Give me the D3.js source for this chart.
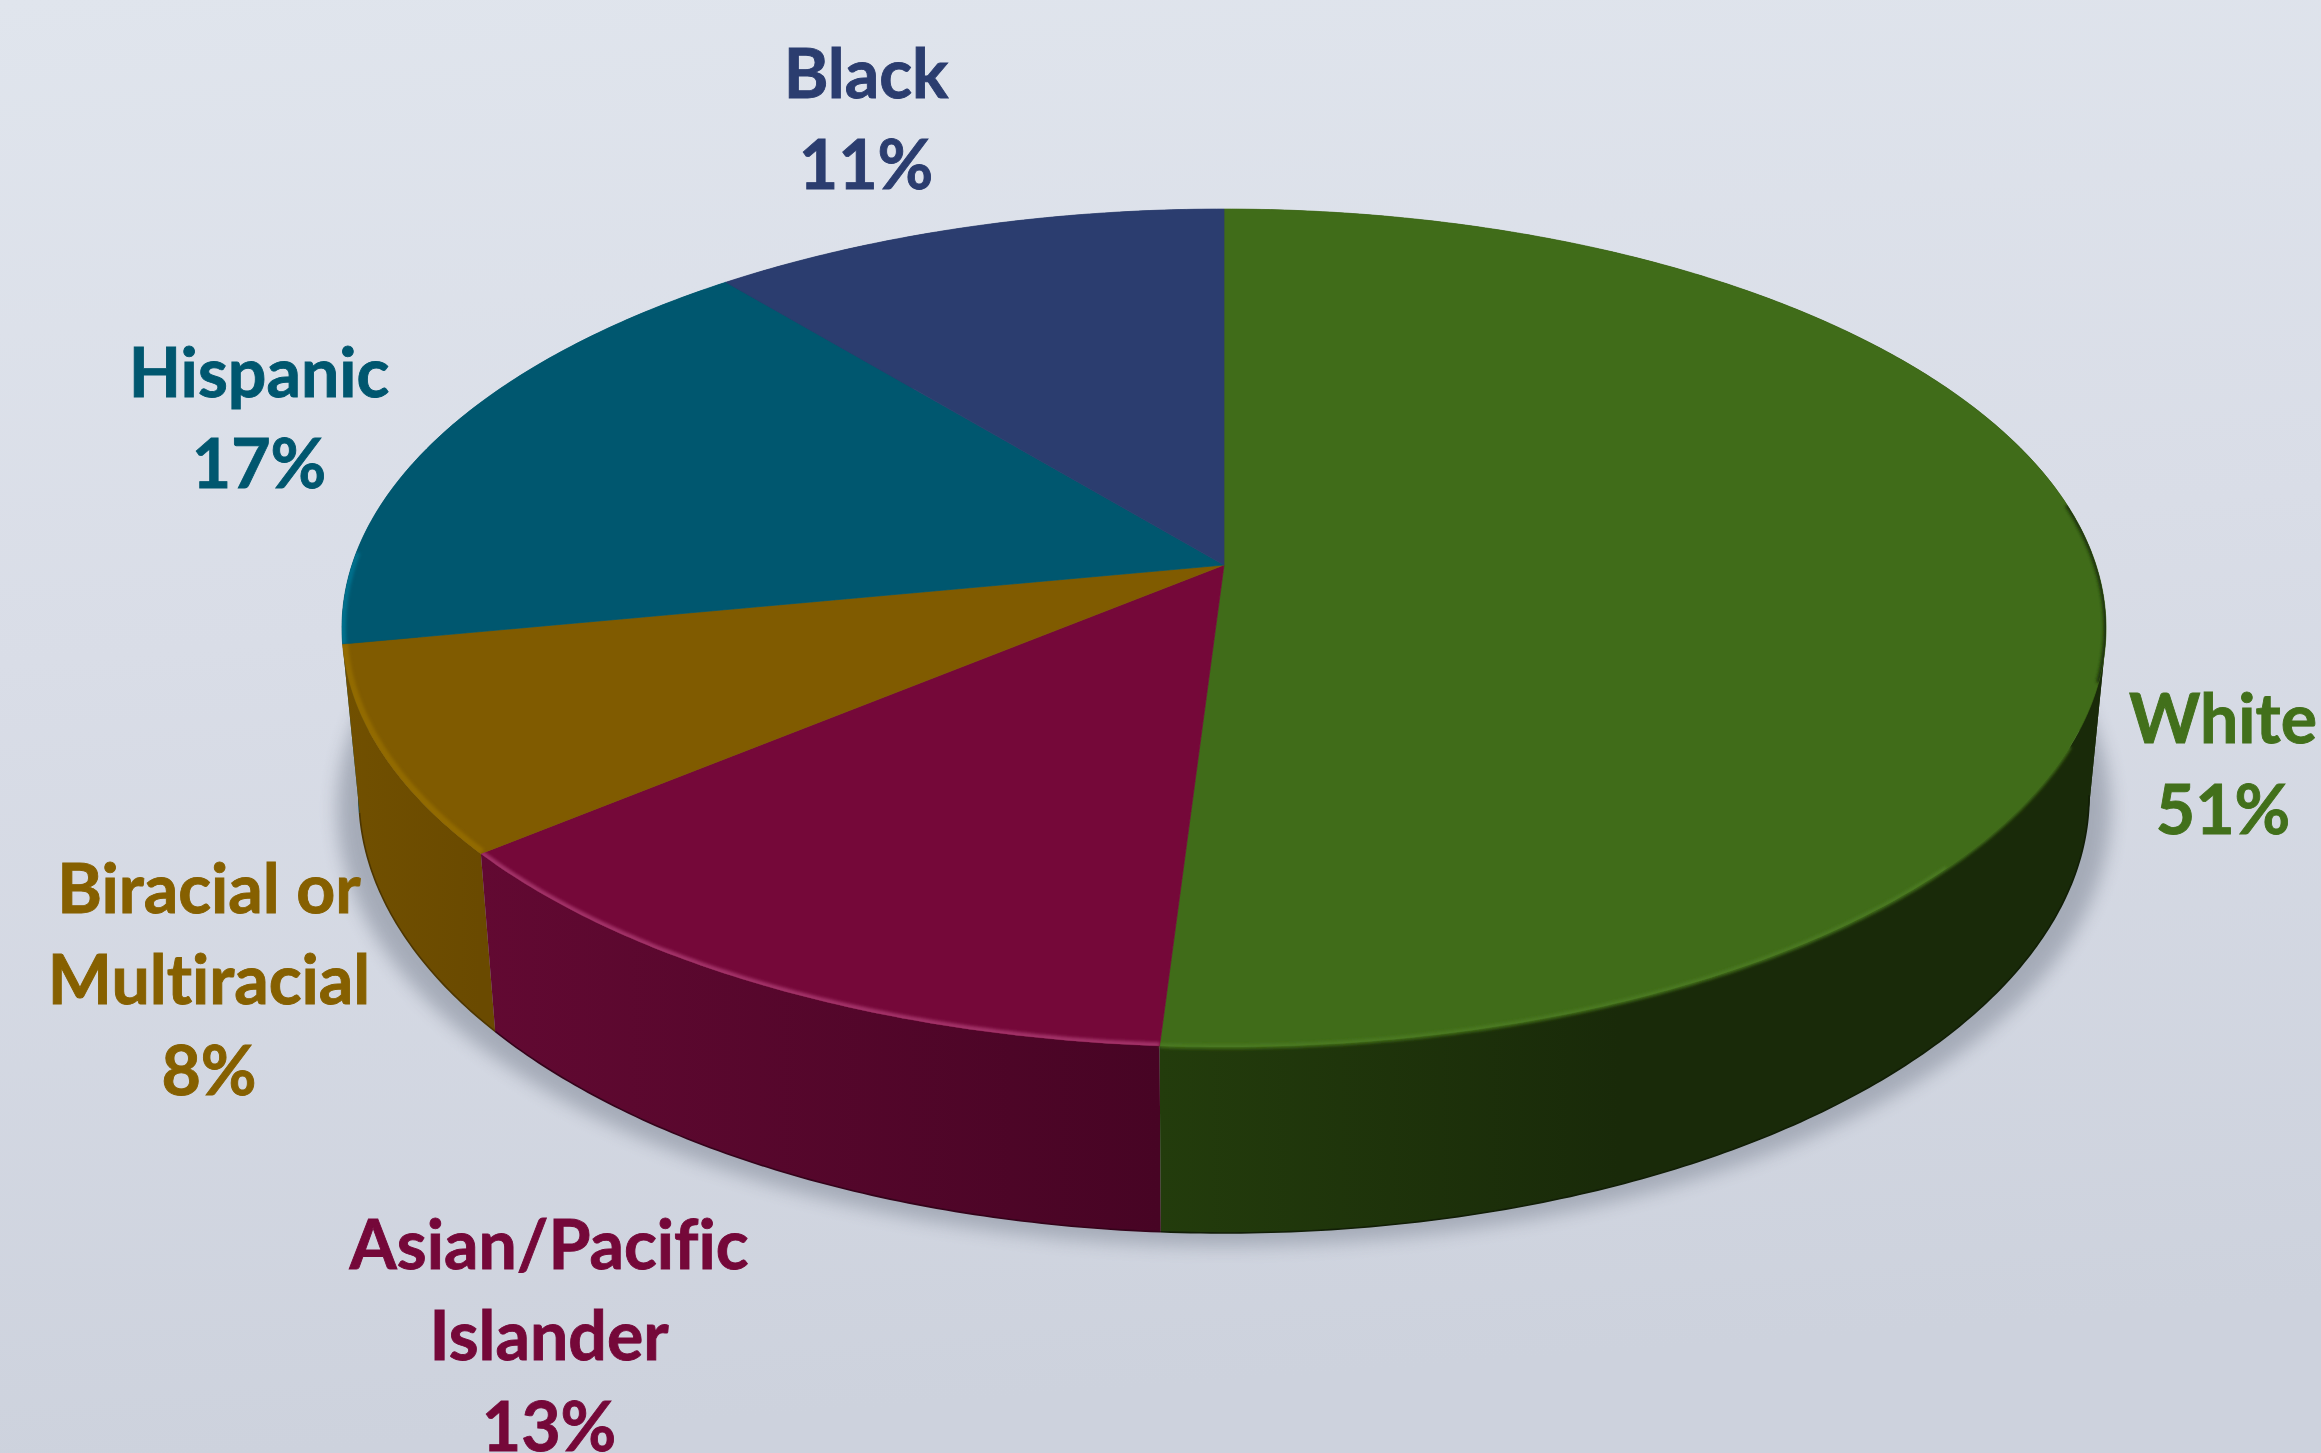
<!DOCTYPE html>
<html>
<head>
<meta charset="utf-8">
<script src="https://cdn.jsdelivr.net/npm/d3@7"></script>
<style>
  html, body { margin: 0; padding: 0; background: #d8dce6; overflow: hidden; }
  text { font-family: Lato, "Open Sans", sans-serif; font-weight: 700; font-variant-ligatures: none; }
</style>
</head>
<body>
<div id="chart"></div>
<script>
// values, clockwise from 12 o'clock
var categories = ["White", "Asian/Pacific Islander", "Biracial or Multiracial", "Hispanic", "Black"];
var values = [51, 13, 8, 17, 11];
var labelLines = [["White"], ["Asian/Pacific", "Islander"], ["Biracial or", "Multiracial"], ["Hispanic"], ["Black"]];

// colours per slice
var faceColors = ["#406c19", "#750839", "#805b00", "#00576f", "#2b3d6f"];
var textColors = ["#42701b", "#750839", "#866000", "#00576f", "#2b3d6f"];
var wallLeft = ["#233c0c", "#620932", "#715000", "#005068", "#22305a"];
var wallRight = ["#192a09", "#470424", "#6a4a00", "#005068", "#22305a"];
var rimColors = ["#4b7a20", "#a23068", "#926a00", "#006f8c", "#2b3d6f"];

var width = 2321;
var height = 1453;

// the pie is a flat disc seen in perspective
var cx = 1224;
var apexY = 565;
var persp = -0.1504;
var radiusX = 872;
var radiusY = 409.5;

// where the lower rim of the wall sits relative to the upper rim
var rimX = d3.scaleLinear().domain([342, 2106]).range([359, 2089]);
var rimY = d3.scaleLinear().domain([860, 1048]).range([1038, 1234]);

// the lower rim can only be seen between these two angles
var lowVisibleFrom = 1.72;
var lowVisibleTo = 2 * Math.PI - 1.72;

function project(a) {
  var u = Math.sin(a), v = -Math.cos(a);
  var w = 1 + persp * v;
  return [cx + radiusX * u / w, apexY + radiusY * v / w];
}
function projectLow(a) {
  var p = project(a);
  return [rimX(p[0]), rimY(p[1])];
}
function samples(a0, a1) {
  var n = Math.max(2, Math.ceil((a1 - a0) / 0.01));
  return d3.range(n + 1).map(function(i) { return a0 + (a1 - a0) * i / n; });
}

var line = d3.line();
var pie = d3.pie().sort(null).startAngle(0).endAngle(2 * Math.PI);
var slices = pie(values);

var svg = d3.select("#chart").append("svg")
  .attr("width", width)
  .attr("height", height)
  .style("display", "block");

var defs = svg.append("defs");

var bg = defs.append("linearGradient").attr("id", "bg")
  .attr("x1", 0).attr("y1", 0).attr("x2", 0.12).attr("y2", 1);
bg.append("stop").attr("offset", 0).attr("stop-color", "#e0e5ed");
bg.append("stop").attr("offset", 0.45).attr("stop-color", "#d9dde7");
bg.append("stop").attr("offset", 1).attr("stop-color", "#cdd2dd");

defs.append("filter").attr("id", "shadowBlur")
  .attr("x", -0.1).attr("y", -0.1).attr("width", 1.2).attr("height", 1.2)
  .append("feGaussianBlur").attr("stdDeviation", 9);
defs.append("filter").attr("id", "rimBlur")
  .attr("filterUnits", "userSpaceOnUse")
  .attr("x", 0).attr("y", 0).attr("width", width).attr("height", height)
  .append("feGaussianBlur").attr("stdDeviation", 1.6);

svg.append("rect").attr("width", width).attr("height", height).attr("fill", "url(#bg)");

// soft shadow under the disc
var shadowPts = samples(0, 2 * Math.PI).map(function(a) {
  var p = projectLow(a);
  return [cx + (p[0] - cx) * 1.025, p[1] + 13];
});
svg.append("path")
  .attr("d", line(shadowPts) + "Z")
  .attr("fill", "#a3a9b6")
  .attr("opacity", 0.95)
  .attr("filter", "url(#shadowBlur)");

// walls, back slices first
var drawOrder = [4, 3, 2, 1, 0];
drawOrder.forEach(function(i) {
  var s = slices[i];
  var angles = samples(s.startAngle, s.endAngle);
  var xs = angles.map(function(a) { return project(a)[0]; });

  var grad = defs.append("linearGradient").attr("id", "wall" + i)
    .attr("gradientUnits", "userSpaceOnUse")
    .attr("x1", i === 0 ? 1160 : d3.min(xs)).attr("y1", 0)
    .attr("x2", i === 0 ? 1620 : d3.max(xs)).attr("y2", 0);
  grad.append("stop").attr("offset", 0).attr("stop-color", wallLeft[i]);
  grad.append("stop").attr("offset", 1).attr("stop-color", wallRight[i]);

  // one quad per step so the side of the disc keeps its straight silhouette.
  // quads that wind opposite ways cancel out in one path, so split them in two
  var quads = d3.pairs(angles).map(function(p) {
    return [project(p[0]), project(p[1]), projectLow(p[1]), projectLow(p[0])];
  });
  var groups = d3.groups(quads, function(q) { return d3.polygonArea(q) > 0; });
  groups.forEach(function(g) {
    svg.append("path")
      .attr("d", g[1].map(function(q) { return line(q) + "Z"; }).join(""))
      .attr("fill", "url(#wall" + i + ")")
      .attr("stroke", "none");
  });

  // thin darker line along the visible part of the bottom edge
  var from = Math.max(s.startAngle, lowVisibleFrom);
  var to = Math.min(s.endAngle, lowVisibleTo);
  if (to > from) {
    svg.append("path")
      .attr("d", line(samples(from, to).map(projectLow)))
      .attr("fill", "none")
      .attr("stroke", d3.color(wallRight[i]).darker(0.9))
      .attr("stroke-width", 1.6);
  }
});

// soft edge where the white slice meets its wall
svg.append("path")
  .attr("d", line(samples(2.0, slices[0].endAngle).map(project)))
  .attr("fill", "none")
  .attr("stroke", faceColors[0])
  .attr("stroke-width", 4)
  .attr("filter", "url(#rimBlur)");

// top faces
slices.forEach(function(s, i) {
  var angles = samples(s.startAngle, s.endAngle);
  var pts = [[cx, apexY]].concat(angles.map(project));
  var d = line(pts) + "Z";

  defs.append("clipPath").attr("id", "face" + i).append("path").attr("d", d);

  svg.append("path")
    .attr("d", d)
    .attr("fill", faceColors[i])
    .attr("stroke", faceColors[i])
    .attr("stroke-width", 0.7);
});

// lighter bevel on the front of the rim only
var rimSpans = [[2.3, slices[0].endAngle], [slices[1].startAngle, slices[1].endAngle],
  [slices[2].startAngle, slices[2].endAngle], [slices[3].startAngle, slices[3].startAngle + 0.22]];
var rimWidths = [5, 7, 11, 8];
rimSpans.forEach(function(span, i) {
  svg.append("g")
    .attr("clip-path", "url(#face" + i + ")")
    .append("path")
    .attr("d", line(samples(span[0], span[1]).map(project)))
    .attr("fill", "none")
    .attr("stroke", rimColors[i])
    .attr("stroke-width", rimWidths[i])
    .attr("filter", "url(#rimBlur)");
});

// the far right of the white slice has a dark rim instead
svg.append("g")
  .attr("clip-path", "url(#face0)")
  .append("path")
  .attr("d", line(samples(1.42, 1.85).map(project)))
  .attr("fill", "none")
  .attr("stroke", "#1d320b")
  .attr("stroke-width", 5)
  .attr("filter", "url(#rimBlur)");

// labels, placed by hand like the original
var labelX = [2223, 549, 209, 259, 866];
var labelY = [743, 1269, 913, 397, 98];
var lineGap = 91;

slices.forEach(function(s, i) {
  var t = svg.append("text")
    .attr("text-anchor", "middle")
    .attr("font-size", 68)
    .attr("fill", textColors[i])
    .attr("stroke", textColors[i])
    .attr("stroke-width", 0.9);
  labelLines[i].concat([values[i] + "%"]).forEach(function(str, k) {
    t.append("tspan")
      .attr("x", labelX[i])
      .attr("y", labelY[i] + k * lineGap)
      .text(str);
  });
});
</script>
</body>
</html>
